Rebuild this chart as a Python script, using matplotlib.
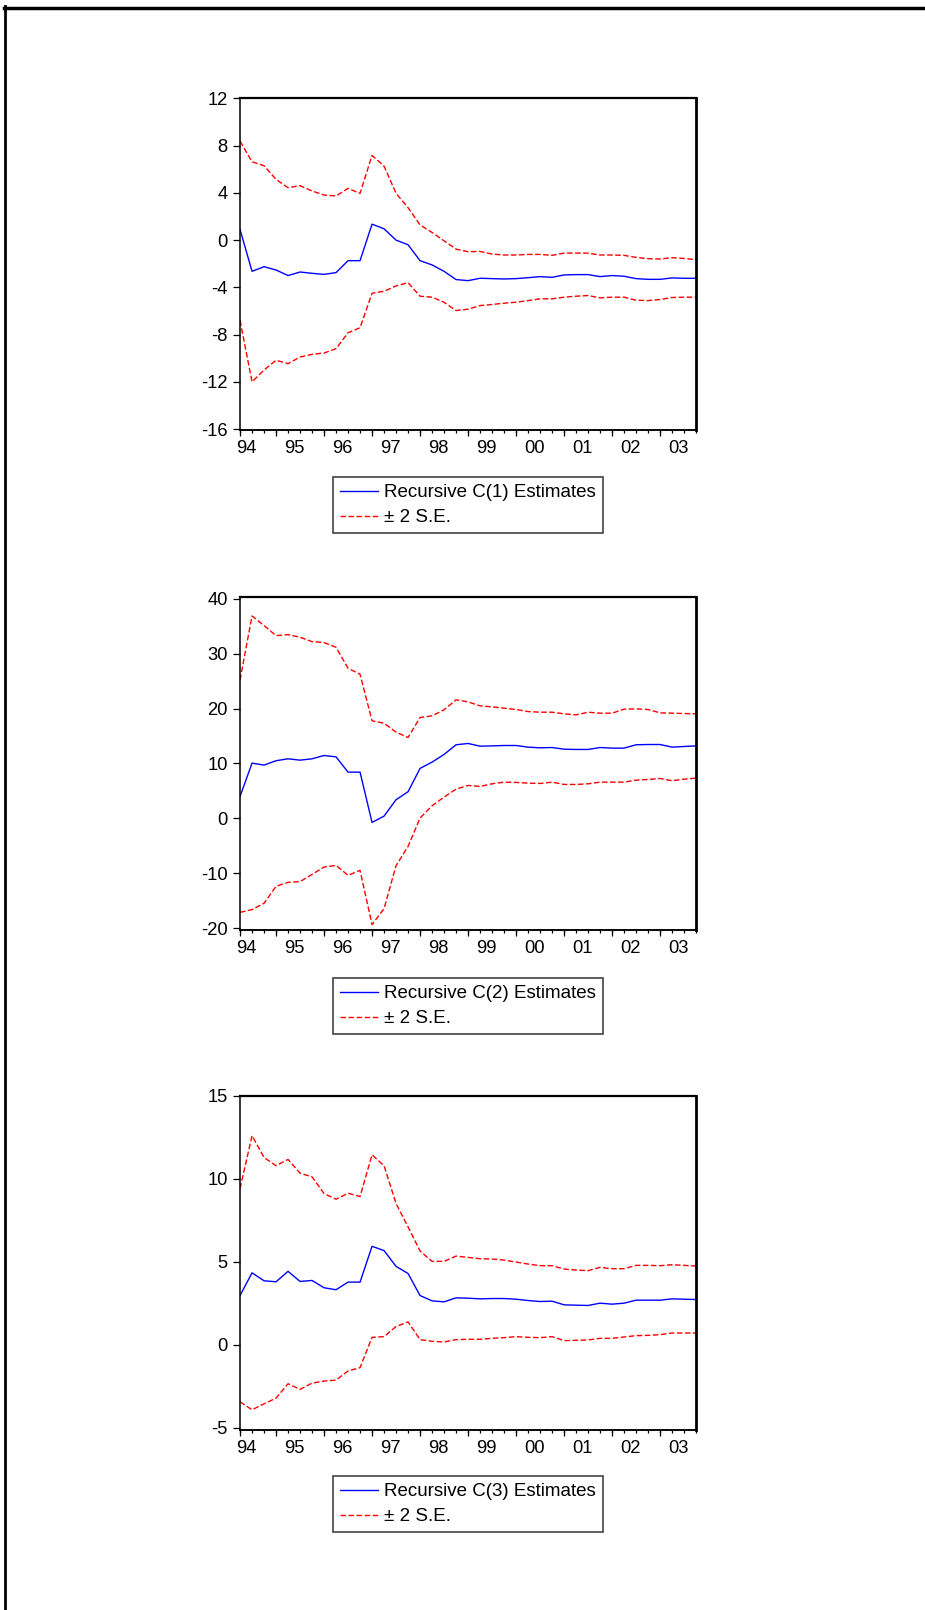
import matplotlib
matplotlib.use('Agg')
import matplotlib.pyplot as plt
from matplotlib.lines import Line2D
import numpy as np

plt.rcParams['font.family'] = ['Liberation Sans', 'DejaVu Sans']
plt.rcParams['axes.unicode_minus'] = False

# quarterly sample 1994Q2 .. 2003Q4 (39 obs)
yearLabels = ['94', '95', '96', '97', '98', '99', '00', '01', '02', '03']
firstYear = 1994
firstQuarter = 2
nObs = 39

# recursive coefficient estimates and +/- 2 S.E. bands
c1Est = [0.9, -2.64, -2.25, -2.53, -3.0, -2.7, -2.81, -2.9, -2.75, -1.74,
         -1.74, 1.35, 0.96, 0.0, -0.39, -1.74, -2.1, -2.64, -3.34, -3.43,
         -3.23, -3.26, -3.29, -3.26, -3.18, -3.09, -3.15, -2.95, -2.92, -2.92,
         -3.09, -3.0, -3.06, -3.26, -3.32, -3.32, -3.2, -3.23, -3.23]
c1Upper = [8.38, 6.63, 6.3, 5.14, 4.44, 4.61, 4.16, 3.82, 3.74, 4.38,
           3.96, 7.17, 6.27, 3.96, 2.75, 1.29, 0.65, -0.06, -0.76, -0.98,
           -0.96, -1.18, -1.26, -1.26, -1.21, -1.21, -1.29, -1.1, -1.1, -1.1,
           -1.26, -1.26, -1.29, -1.46, -1.57, -1.6, -1.49, -1.55, -1.66]
c1Lower = [-6.8, -12.0, -11.0, -10.17, -10.46, -9.9, -9.67, -9.56, -9.19, -7.84,
           -7.42, -4.5, -4.33, -3.88, -3.6, -4.75, -4.83, -5.26, -5.96, -5.85,
           -5.54, -5.45, -5.34, -5.26, -5.12, -4.97, -4.97, -4.83, -4.75, -4.69,
           -4.89, -4.83, -4.83, -5.09, -5.12, -5.03, -4.86, -4.83, -4.83]

c2Est = [4.0, 10.06, 9.7, 10.5, 10.85, 10.6, 10.85, 11.45, 11.2, 8.42,
         8.42, -0.73, 0.42, 3.4, 4.85, 9.1, 10.24, 11.64, 13.4, 13.64,
         13.15, 13.2, 13.27, 13.27, 12.97, 12.85, 12.9, 12.6, 12.55, 12.55,
         12.9, 12.79, 12.79, 13.4, 13.45, 13.45, 12.97, 13.09, 13.2]
c2Upper = [25.2, 36.85, 35.1, 33.27, 33.45, 32.97, 32.18, 32.0, 31.15, 27.33,
           26.24, 17.76, 17.33, 15.7, 14.73, 18.36, 18.67, 19.76, 21.58, 21.21,
           20.48, 20.3, 20.06, 19.82, 19.45, 19.33, 19.33, 19.03, 18.85, 19.33,
           19.15, 19.15, 19.88, 19.94, 19.82, 19.21, 19.15, 19.09, 19.03]
c2Lower = [-17.1, -16.6, -15.45, -12.36, -11.64, -11.5, -10.2, -8.85, -8.55, -10.36,
           -9.45, -19.33, -16.42, -8.6, -5.1, 0.06, 2.3, 3.88, 5.33, 6.0,
           5.82, 6.3, 6.6, 6.55, 6.42, 6.36, 6.6, 6.18, 6.18, 6.3,
           6.6, 6.6, 6.6, 6.97, 7.09, 7.27, 6.85, 7.15, 7.33]

c3Est = [2.96, 4.33, 3.85, 3.79, 4.42, 3.81, 3.87, 3.43, 3.31, 3.77,
         3.77, 5.93, 5.67, 4.72, 4.29, 2.96, 2.64, 2.58, 2.82, 2.8,
         2.76, 2.78, 2.78, 2.74, 2.66, 2.6, 2.62, 2.4, 2.38, 2.36,
         2.5, 2.44, 2.5, 2.68, 2.68, 2.68, 2.76, 2.74, 2.72]
c3Upper = [9.42, 12.6, 11.29, 10.79, 11.17, 10.34, 10.12, 9.11, 8.77, 9.13,
           8.93, 11.45, 10.79, 8.51, 7.1, 5.65, 5.02, 5.02, 5.34, 5.26,
           5.18, 5.16, 5.1, 4.98, 4.86, 4.76, 4.76, 4.56, 4.5, 4.46,
           4.66, 4.58, 4.58, 4.78, 4.78, 4.76, 4.82, 4.78, 4.74]
c3Lower = [-3.45, -3.93, -3.57, -3.23, -2.36, -2.7, -2.32, -2.2, -2.14, -1.59,
           -1.39, 0.44, 0.48, 1.09, 1.37, 0.3, 0.2, 0.16, 0.3, 0.32,
           0.32, 0.38, 0.42, 0.48, 0.44, 0.42, 0.48, 0.24, 0.26, 0.28,
           0.38, 0.38, 0.46, 0.54, 0.56, 0.6, 0.7, 0.7, 0.7]

coefNames = ['C(1)', 'C(2)', 'C(3)']
estimates = [c1Est, c2Est, c3Est]
uppers = [c1Upper, c2Upper, c3Upper]
lowers = [c1Lower, c2Lower, c3Lower]
yLimits = [(-16.08, 12.03), (-20.3, 40.3), (-5.15, 15.0)]
yTicks = [np.arange(-16, 13, 4), np.arange(-20, 41, 10), np.arange(-5, 16, 5)]

# quarter of each observation, year starts get the long ticks
quarterOfObs = [(firstQuarter - 1 + i) % 4 + 1 for i in range(nObs)]
yearStarts = [i for i in range(nObs) if quarterOfObs[i] == 1 or i == 0]
# label every year in the middle of its quarters
labelPos = []
for nYear in range(len(yearLabels)):
  obsInYear = [i for i in range(nObs) if (firstQuarter - 1 + i) // 4 == nYear]
  if nYear == 0:
    labelPos.append(0.5)
  else:
    labelPos.append((obsInYear[0] + obsInYear[-1]) / 2)

# axes rectangles [left, bottom, width, height] in figure fraction
axRects = [[0.2595, 0.7329, 0.4930, 0.2062],
           [0.2595, 0.4224, 0.4930, 0.2068],
           [0.2595, 0.1118, 0.4930, 0.2075]]
legendTops = [0.7037, 0.3926, 0.0832]
tickFont = 13.2

fig = plt.figure(figsize=(9.25, 16.10), dpi=100)
x = np.arange(nObs)

for nCoef in range(0, len(coefNames)):
  ax = fig.add_axes(axRects[nCoef])
  ax.plot(x, estimates[nCoef], color='#0000ff', lw=1.0, label=f'Recursive {coefNames[nCoef]} Estimates')
  ax.plot(x, uppers[nCoef], color='#ff0000', lw=1.0, dashes=(4.0, 1.8), label='± 2 S.E.')
  ax.plot(x, lowers[nCoef], color='#ff0000', lw=1.0, dashes=(4.0, 1.8))

  ax.set_xlim(0, nObs - 1)
  ax.set_ylim(yLimits[nCoef])
  ax.set_yticks(yTicks[nCoef])
  ax.tick_params(axis='y', direction='out', length=5.4, width=0.9, pad=3.4, labelsize=tickFont)

  # year labels (no tick) + short tick per quarter
  ax.set_xticks(labelPos)
  ax.set_xticklabels(yearLabels)
  ax.set_xticks(x, minor=True)
  ax.tick_params(axis='x', which='major', length=0, pad=7.0, labelsize=tickFont)
  ax.tick_params(axis='x', which='minor', direction='out', length=2.4, width=0.9)
  # long ticks at year starts
  secAx = ax.secondary_xaxis('bottom')
  secAx.set_xticks(yearStarts)
  secAx.tick_params(direction='out', length=4.4, width=0.9, labelbottom=False)
  secAx.spines['bottom'].set_linewidth(1.1)

  ax.spines['left'].set_linewidth(1.1)
  ax.spines['bottom'].set_linewidth(1.1)
  ax.spines['top'].set_linewidth(1.6)
  ax.spines['right'].set_linewidth(2.0)

  leg = ax.legend(loc='upper center', bbox_to_anchor=(0.506, legendTops[nCoef]),
                  bbox_transform=fig.transFigure, fontsize=13.5, frameon=True,
                  fancybox=False, shadow=False, borderpad=0.38, labelspacing=0.42,
                  handlelength=2.0, handletextpad=0.35, borderaxespad=0)
  leg.get_frame().set_edgecolor('black')
  leg.get_frame().set_linewidth(1.1)

# page border of the screenshot
fig.add_artist(Line2D([0.0045, 1.0], [0.9953, 0.9953], color='black', lw=2.5))
fig.add_artist(Line2D([0.0057, 0.0057], [0.0, 0.9965], color='black', lw=2.0))

plt.savefig('out.png', dpi=100)
